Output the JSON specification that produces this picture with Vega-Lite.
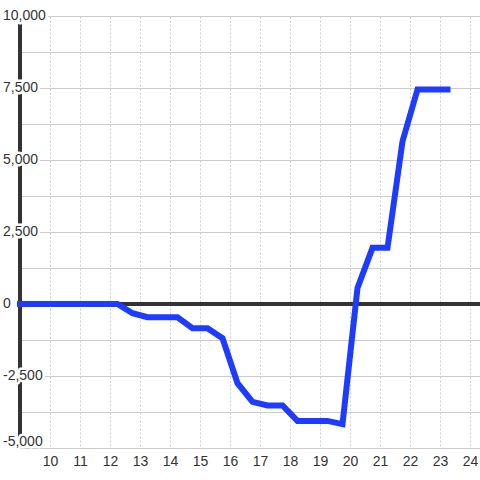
{
  "$schema": "https://vega.github.io/schema/vega-lite/v6.json",
  "autosize": "none",
  "width": 460,
  "height": 432,
  "padding": {"left": 20, "top": 16, "right": 0, "bottom": 32},
  "background": "white",
  "config": {"view": {"stroke": null}, "font": "Liberation Sans"},
  "datasets": {
    "series": [
      {"x": 9.0, "y": 0},
      {"x": 12.25, "y": 0},
      {"x": 12.75, "y": -320},
      {"x": 13.25, "y": -460},
      {"x": 13.75, "y": -460},
      {"x": 14.25, "y": -460},
      {"x": 14.75, "y": -840},
      {"x": 15.25, "y": -840},
      {"x": 15.75, "y": -1190},
      {"x": 16.25, "y": -2750},
      {"x": 16.75, "y": -3400},
      {"x": 17.25, "y": -3520},
      {"x": 17.75, "y": -3520},
      {"x": 18.25, "y": -4060},
      {"x": 18.75, "y": -4060},
      {"x": 19.25, "y": -4060},
      {"x": 19.75, "y": -4170},
      {"x": 20.25, "y": 560},
      {"x": 20.75, "y": 1950},
      {"x": 21.25, "y": 1950},
      {"x": 21.75, "y": 5650},
      {"x": 22.25, "y": 7450},
      {"x": 22.75, "y": 7450},
      {"x": 23.25, "y": 7450}
    ],
    "ylabels": [
      {"v": -5000}, {"v": -2500}, {"v": 0}, {"v": 2500}, {"v": 5000}, {"v": 7500}, {"v": 10000}
    ]
  },
  "data": {"name": "series"},
  "layer": [
    {
      "mark": {"type": "rule", "color": "#333333", "strokeWidth": 3},
      "encoding": {"x": {"datum": 9, "type": "quantitative", "title": null,
          "scale": {"domain": [9, 24.333], "nice": false, "zero": false},
          "axis": {"title": null, "zindex": 0, "values": [10,11,12,13,14,15,16,17,18,19,20,21,22,23,24], "grid": true, "gridColor": "#cccccc", "gridDash": [2, 2], "gridWidth": 1, "domain": false, "ticks": false, "labelOverlap": false, "labelFontSize": 14, "labelColor": "#333333", "labelPadding": 6, "labelFlush": false}}}
    },
    {
      "mark": {"type": "rule", "color": "#333333", "strokeWidth": 3},
      "encoding": {"y": {"datum": 0, "type": "quantitative", "title": null,
          "scale": {"domain": [-5000, 10000], "nice": false, "zero": false},
          "axis": {"title": null, "zindex": 0, "values": [-5000, -3750, -2500, -1250, 0, 1250, 2500, 3750, 5000, 6250, 7500, 8750, 10000], "labels": false, "grid": true, "gridColor": "#cccccc", "gridWidth": 1, "domain": false, "ticks": false}}}
    },
    {
      "mark": {"type": "line", "color": "#1e3cff", "strokeWidth": 6, "strokeCap": "square", "strokeJoin": "miter", "clip": false},
      "encoding": {
        "x": {
          "field": "x", "type": "quantitative", "title": null,
          "scale": {"domain": [9, 24.333], "nice": false, "zero": false},
          "axis": {"title": null, "zindex": 0, "values": [10,11,12,13,14,15,16,17,18,19,20,21,22,23,24], "grid": true, "gridColor": "#cccccc", "gridDash": [2, 2], "gridWidth": 1, "domain": false, "ticks": false, "labelOverlap": false, "labelFontSize": 14, "labelColor": "#333333", "labelPadding": 6, "labelFlush": false}
        },
        "y": {
          "field": "y", "type": "quantitative", "title": null,
          "scale": {"domain": [-5000, 10000], "nice": false, "zero": false},
          "axis": {"title": null, "zindex": 0, "values": [-5000, -3750, -2500, -1250, 0, 1250, 2500, 3750, 5000, 6250, 7500, 8750, 10000], "labels": false, "grid": true, "gridColor": "#cccccc", "gridWidth": 1, "domain": false, "ticks": false}
        }
      }
    },
    {
      "data": {"name": "ylabels"},
      "transform": [
        {"calculate": "datum.v < 0 ? '-' + format(-datum.v, ',') : '\u00a0' + format(datum.v, ',')", "as": "label"},
        {"calculate": "datum.v == -5000 ? 'end' : 'mid'", "as": "grp"}
      ],
      "encoding": {
        "x": {"datum": 9, "type": "quantitative", "title": null,
          "scale": {"domain": [9, 24.333], "nice": false, "zero": false},
          "axis": {"title": null, "zindex": 0, "values": [10,11,12,13,14,15,16,17,18,19,20,21,22,23,24], "grid": true, "gridColor": "#cccccc", "gridDash": [2, 2], "gridWidth": 1, "domain": false, "ticks": false, "labelOverlap": false, "labelFontSize": 14, "labelColor": "#333333", "labelPadding": 6, "labelFlush": false}},
        "y": {"field": "v", "type": "quantitative", "title": null,
          "scale": {"domain": [-5000, 10000], "nice": false, "zero": false},
          "axis": {"title": null, "zindex": 0, "values": [-5000, -3750, -2500, -1250, 0, 1250, 2500, 3750, 5000, 6250, 7500, 8750, 10000], "labels": false, "grid": true, "gridColor": "#cccccc", "gridWidth": 1, "domain": false, "ticks": false}},
        "text": {"field": "label"}
      },
      "layer": [
        {
          "transform": [{"filter": "datum.grp == 'mid'"}],
          "mark": {"type": "text", "align": "left", "baseline": "middle", "dx": -17, "fontSize": 14, "fill": "white", "stroke": "white", "strokeWidth": 5, "strokeJoin": "round"}
        },
        {
          "transform": [{"filter": "datum.grp == 'mid'"}],
          "mark": {"type": "text", "align": "left", "baseline": "middle", "dx": -17, "fontSize": 14, "color": "#333333"}
        },
        {
          "transform": [{"filter": "datum.grp == 'end'"}],
          "mark": {"type": "text", "align": "left", "baseline": "middle", "dx": -17, "dy": -6, "fontSize": 14, "fill": "white", "stroke": "white", "strokeWidth": 5, "strokeJoin": "round"}
        },
        {
          "transform": [{"filter": "datum.grp == 'end'"}],
          "mark": {"type": "text", "align": "left", "baseline": "middle", "dx": -17, "dy": -6, "fontSize": 14, "color": "#333333"}
        }
      ]
    }
  ]
}
